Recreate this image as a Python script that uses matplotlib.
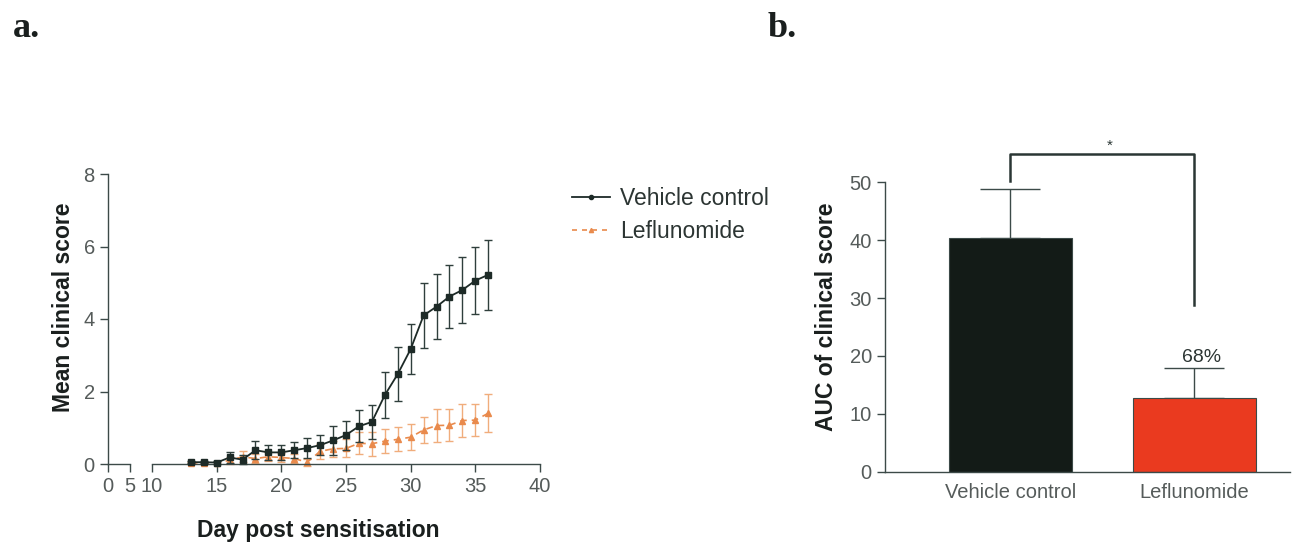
import matplotlib.pyplot as plt
from matplotlib.lines import Line2D

plt.rcParams['font.family'] = ['Liberation Sans', 'DejaVu Sans']

# time course, days 13-36
days = list(range(13, 37))
veh_mean = [0.05, 0.05, 0.04, 0.18, 0.12, 0.38, 0.32, 0.32, 0.38, 0.44, 0.52, 0.65,
            0.80, 1.04, 1.16, 1.90, 2.48, 3.17, 4.10, 4.34, 4.62, 4.80, 5.06, 5.22]
veh_sem = [0.03, 0.03, 0.03, 0.15, 0.12, 0.25, 0.20, 0.20, 0.22, 0.27, 0.27, 0.40,
           0.40, 0.44, 0.46, 0.63, 0.74, 0.70, 0.90, 0.90, 0.88, 0.92, 0.93, 0.96]
lef_mean = [0.03, 0.03, 0.03, 0.10, 0.20, 0.15, 0.20, 0.18, 0.15, 0.05, 0.35, 0.42,
            0.43, 0.57, 0.56, 0.63, 0.68, 0.74, 0.94, 1.06, 1.07, 1.20, 1.21, 1.40]
lef_sem = [0.02, 0.02, 0.02, 0.10, 0.15, 0.12, 0.12, 0.12, 0.12, 0.10, 0.20, 0.22,
           0.25, 0.30, 0.33, 0.33, 0.33, 0.35, 0.36, 0.46, 0.44, 0.46, 0.45, 0.53]

# area under curve
groups = ['Vehicle control', 'Leflunomide']
auc = [40.3, 12.8]
auc_sem = [8.5, 5.1]
reduction = '68%'

dark = '#1d2a27'
axcol = '#3c4a48'
tickcol = '#555b5a'
orange = '#e98a4c'

fig = plt.figure(figsize=(13.06, 5.43), dpi=100)

def style(ax):
    for s in ax.spines.values():
        s.set_color(axcol)
        s.set_linewidth(1.0)
    ax.spines['top'].set_visible(False)
    ax.spines['right'].set_visible(False)
    ax.tick_params(colors=axcol, labelcolor=tickcol, labelsize=14.5, length=6, width=1)

# ---- panel a: broken x axis ----
ax1 = fig.add_axes([108/1306, 79/543, 22/1306, 290/543])
ax2 = fig.add_axes([152/1306, 79/543, 388/1306, 290/543])
for ax in (ax1, ax2):
    style(ax)
    ax.set_ylim(0, 8)
ax1.set_xlim(0, 5)
ax1.set_xticks([0, 5])
ax1.set_yticks([0, 2, 4, 6, 8])
ax2.set_xlim(10, 40)
ax2.set_xticks([10, 15, 20, 25, 30, 35, 40])
ax2.spines['left'].set_visible(False)
ax2.set_yticks([])
ax2.patch.set_alpha(0)

ax2.errorbar(days, lef_mean, yerr=lef_sem, color=orange, ecolor='#f0ad7c', lw=1.2,
             ls=(0, (4, 3)), marker='^', ms=4, capsize=3, elinewidth=1, clip_on=False, zorder=2)
ax2.errorbar(days, veh_mean, yerr=veh_sem, color=dark, ecolor='#2f3f3c', lw=1.3,
             marker='s', ms=5, capsize=3, elinewidth=1, clip_on=False, zorder=3)

ax1.set_ylabel('Mean clinical score', fontsize=16.5, fontweight='bold', color='#1a1f1e', labelpad=6)
ax1.yaxis.label.set_y(0.54)
fig.text(318/1306, 1 - 530/543, 'Day post sensitisation', fontsize=16.5, fontweight='bold',
         color='#1a1f1e', ha='center', va='center')

handles = [Line2D([], [], color=dark, lw=1.3, marker='o', ms=3),
           Line2D([], [], color=orange, lw=1.2, ls=(0, (3, 3)), marker='^', ms=3)]
fig.legend(handles, groups, loc='upper left', bbox_to_anchor=(572/1306, 1 - 187/543),
           frameon=False, fontsize=16.5, handlelength=1.65, handletextpad=0.45,
           labelspacing=0.45, labelcolor='#2c3533', borderpad=0, borderaxespad=0)

# ---- panel b: AUC bars ----
ax3 = fig.add_axes([885/1306, (543 - 471.7)/543, 405/1306, 289.4/543])
style(ax3)
ax3.set_xlim(-0.68, 1.52)
ax3.set_ylim(0, 50)
ax3.set_yticks([0, 10, 20, 30, 40, 50])
pos = [0, 1]
ax3.bar(pos, auc, width=0.67, color=['#131b17', '#ea3a1f'], edgecolor=axcol, lw=0.8, zorder=2)
ax3.errorbar(pos, auc, yerr=[[0, 0], auc_sem], fmt='none', ecolor=axcol, elinewidth=1,
             capsize=21.5, capthick=1, zorder=1)
ax3.set_xticks(pos)
ax3.set_xticklabels(groups, fontsize=14.5)
ax3.tick_params(axis='x', length=0, pad=8)
ax3.set_ylabel('AUC of clinical score', fontsize=16.5, fontweight='bold', color='#1a1f1e', labelpad=8)
ax3.yaxis.label.set_y(0.535)

# significance bracket
top = 54.9
ax3.plot([0, 0, 1, 1], [auc[0] + auc_sem[0] + 1.5, top, top, 28.8], color='#2a3634',
         lw=1.8, clip_on=False)
ax3.text(0.54, top + 0.2, '*', ha='center', va='bottom', fontsize=11, color='#2a3634')
ax3.text(1.04, auc[1] + auc_sem[1] + 0.4, reduction, ha='center', va='bottom',
         fontsize=14, color='#2c3533')

# panel letters
fig.text(13/1306, 1 - 37/543, 'a.', fontsize=26, fontweight='bold', family='Liberation Serif',
         color='#1a1f1e', va='baseline')
fig.text(768/1306, 1 - 37/543, 'b.', fontsize=26, fontweight='bold', family='Liberation Serif',
         color='#1a1f1e', va='baseline')

fig.savefig('out.png', dpi=100)
